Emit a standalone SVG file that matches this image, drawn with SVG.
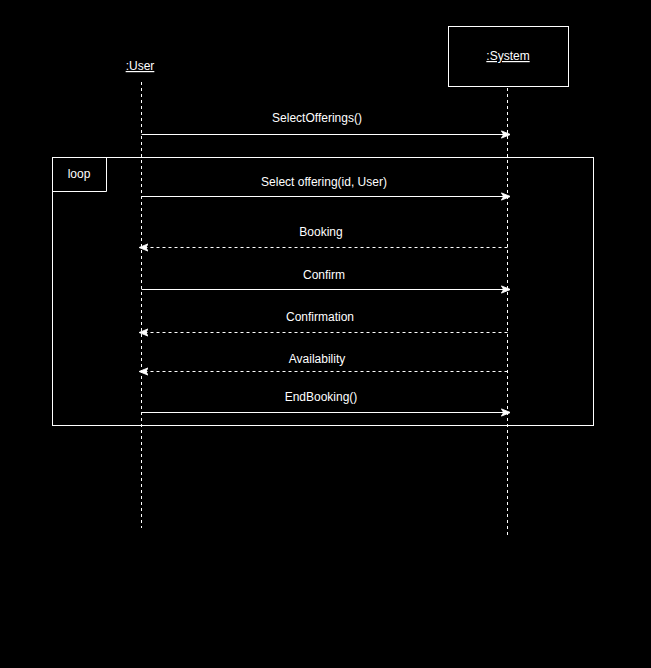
<svg xmlns="http://www.w3.org/2000/svg" width="651" height="668" viewBox="0 0 651 668">
<defs>
<style>
text{font-family:"Liberation Sans",Arial,sans-serif;font-size:12px;fill:#fff;text-anchor:middle}
.u{text-decoration:underline}
.ll{stroke:#fff;stroke-width:1;stroke-dasharray:3 3;fill:none}
.m{stroke:#fff;stroke-width:1;fill:none;marker-end:url(#ah)}
.r{stroke:#fff;stroke-width:1;fill:none;stroke-dasharray:3 3;marker-end:url(#ah)}
.box{fill:#000;stroke:#fff;stroke-width:1}
</style>
<marker id="ah" viewBox="0 0 10 10" refX="9" refY="5" markerWidth="9" markerHeight="9" markerUnits="userSpaceOnUse" orient="auto">
<path d="M0,1 L10,5 L0,9 L2.5,5 Z" fill="#fff" stroke="#fff" stroke-width="1"/>
</marker>
</defs>
<rect width="651" height="668" fill="#000"/>
<g id="loop">
<rect class="box" x="52.5" y="157.5" width="541" height="268" fill="none"/>
<path d="M52.5,191.5 H106.5 V157.5" fill="none" stroke="#fff"/>
<text x="79" y="178">loop</text>
</g>
<g id="user">
<text class="u" x="140" y="70">:User</text>
<line class="ll" x1="141.5" y1="82" x2="141.5" y2="528"/>
</g>
<g id="system">
<rect class="box" x="448.5" y="26.5" width="120" height="60"/>
<text class="u" x="508" y="60">:System</text>
<line class="ll" x1="507.5" y1="88" x2="507.5" y2="536"/>
</g>
<g id="connectors">
<line class="m" x1="141.5" y1="134.5" x2="509.5" y2="134.5"/>
<text x="317" y="122">SelectOfferings()</text>
<line class="m" x1="141.5" y1="196.5" x2="509.5" y2="196.5"/>
<text x="324" y="186">Select offering(id, User)</text>
<line class="r" x1="507.5" y1="247.5" x2="140" y2="247.5"/>
<text x="321" y="236">Booking</text>
<line class="m" x1="141.5" y1="289.5" x2="509.5" y2="289.5"/>
<text x="324" y="279">Confirm</text>
<line class="r" x1="507.5" y1="332.5" x2="140" y2="332.5"/>
<text x="320" y="321">Confirmation</text>
<line class="r" x1="507.5" y1="371.5" x2="140" y2="371.5"/>
<text x="317" y="363">Availability</text>
<line class="m" x1="141.5" y1="412.5" x2="509.5" y2="412.5"/>
<text x="321" y="401">EndBooking()</text>
</g>
</svg>
